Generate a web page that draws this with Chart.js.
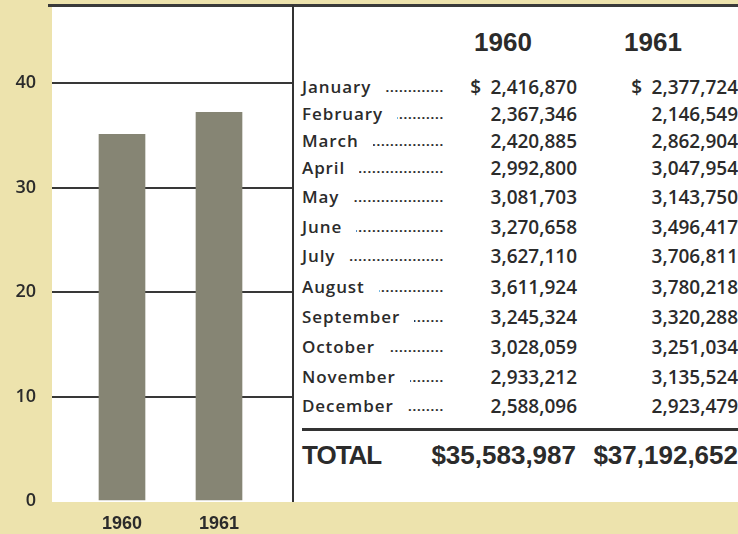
<!DOCTYPE html>
<html>
<head>
<meta charset="utf-8">
<script src="https://cdn.jsdelivr.net/npm/chart.js@4"></script>
<style>
  html, body { margin: 0; padding: 0; }
  body { width: 738px; height: 534px; background: #ede3ad; position: relative; overflow: hidden; color: #2b2b2b; }
  #panel { position: absolute; left: 52px; top: 5px; width: 686px; height: 497px; background: #ffffff; }
  #topline { position: absolute; left: 48px; top: 4px; width: 690px; height: 3px; background: #3a3a3a; }
  #vline { position: absolute; left: 292px; top: 5px; width: 2px; height: 497px; background: #333; }
  #chartbox { position: absolute; left: 0; top: 0; width: 300px; height: 534px; }
  .hdr { position: absolute; font-family: "Liberation Sans", Arial, sans-serif; font-weight: bold; font-size: 26px; line-height: 30px; top: 27px; }
  .row { position: absolute; left: 302px; width: 436px; height: 26px; line-height: 26px; font-family: "Open Sans", sans-serif; font-weight: 600; font-size: 19px; }
  .name { position: absolute; left: 0; top: 0; width: 142px; display: flex; white-space: nowrap; font-size: 17px; }
  .name .m { letter-spacing: 0.9px; }
  .name .lead { flex: 1; overflow: hidden; direction: rtl; margin-left: 14px; font-size: 13px; font-weight: 700; letter-spacing: 0.8px; }
  .v1, .v2 { position: absolute; top: 0; text-align: right; white-space: pre; }
  .v1 { right: 161px; }
  .v2 { right: 0px; }
  #rule { position: absolute; left: 302px; top: 428px; width: 436px; height: 3px; background: #333; }
  .tot { position: absolute; top: 440px; font-family: "Liberation Sans", Arial, sans-serif; font-weight: bold; font-size: 26px; line-height: 30px; white-space: nowrap; }
</style>
</head>
<body>
<div id="panel"></div>
<div id="topline"></div>
<div id="chartbox"><canvas id="c" width="300" height="534"></canvas></div>
<div id="vline"></div>
<div id="table"></div>
<script>
// ---- data ----
const categories = ['1960', '1961'];
const barValues = [35.1, 37.2];            // bar heights (millions of dollars)
const yTickValues = [0, 10, 20, 30, 40];
const months = ['January', 'February', 'March', 'April', 'May', 'June', 'July',
  'August', 'September', 'October', 'November', 'December'];
const sales1960 = [2416870, 2367346, 2420885, 2992800, 3081703, 3270658, 3627110,
  3611924, 3245324, 3028059, 2933212, 2588096];
const sales1961 = [2377724, 2146549, 2862904, 3047954, 3143750, 3496417, 3706811,
  3780218, 3320288, 3251034, 3135524, 2923479];
const totals = [35583987, 37192652];
const totalLabel = 'TOTAL';

// ---- layout (not data) ----
const rowCenters = [87, 114, 141, 168, 197, 227, 256, 287, 317, 347, 377, 406];

const fmt = n => n.toLocaleString('en-US');

// Table
const table = document.getElementById('table');
function add(html) { table.insertAdjacentHTML('beforeend', html); }
add(`<div class="hdr" style="left:474px">${categories[0]}</div>`);
add(`<div class="hdr" style="left:624px">${categories[1]}</div>`);
months.forEach((m, i) => {
  const p = i === 0 ? '$\u2002' : '';
  add(`<div class="row" style="top:${rowCenters[i] - 13}px">
    <div class="name"><span class="m">${m}</span><span class="lead">${'.'.repeat(40)}</span></div>
    <div class="v1">${p}${fmt(sales1960[i])}</div>
    <div class="v2">${p}${fmt(sales1961[i])}</div>
  </div>`);
});
add(`<div id="rule"></div>`);
add(`<div class="tot" style="left:302px;letter-spacing:-1px">${totalLabel}</div>`);
add(`<div class="tot" style="right:162px">$${fmt(totals[0])}</div>`);
add(`<div class="tot" style="right:0px">$${fmt(totals[1])}</div>`);

// Chart
const xs = categories.map(Number);
new Chart(document.getElementById('c'), {
  type: 'bar',
  data: {
    datasets: [{
      data: xs.map((x, i) => ({ x: x, y: barValues[i] })),
      backgroundColor: '#868574',
      borderWidth: 0,
      barThickness: 46
    }]
  },
  options: {
    responsive: false,
    devicePixelRatio: 1,
    animation: false,
    layout: { padding: { top: 83, right: 8, left: 0, bottom: 0 } },
    plugins: { legend: { display: false }, tooltip: { enabled: false } },
    scales: {
      x: {
        type: 'linear',
        offset: false,
        min: 1960 - 70 / 97,
        max: 1961 + 73 / 97,
        afterBuildTicks: s => { s.ticks = xs.map(v => ({ value: v })); },
        afterFit: s => { s.height = 33; },
        grid: { display: false, drawTicks: false, offset: false },
        border: { display: false },
        ticks: {
          callback: v => String(v),
          padding: 12,
          color: '#2b2b2b',
          font: { family: 'Liberation Sans', weight: 'bold', size: 18 },
          maxRotation: 0
        }
      },
      y: {
        min: 0,
        max: 40,
        afterBuildTicks: s => { s.ticks = yTickValues.map(v => ({ value: v })); },
        afterFit: s => { s.width = 52; },
        grid: {
          drawTicks: false,
          lineWidth: 2,
          color: ctx => (ctx.tick && ctx.tick.value === 0) ? 'rgba(0,0,0,0)' : '#383838'
        },
        border: { display: false },
        ticks: {
          padding: 16,
          color: '#2b2b2b',
          font: { family: 'Open Sans', weight: '600', size: 18 }
        }
      }
    }
  }
});
</script>
</body>
</html>
